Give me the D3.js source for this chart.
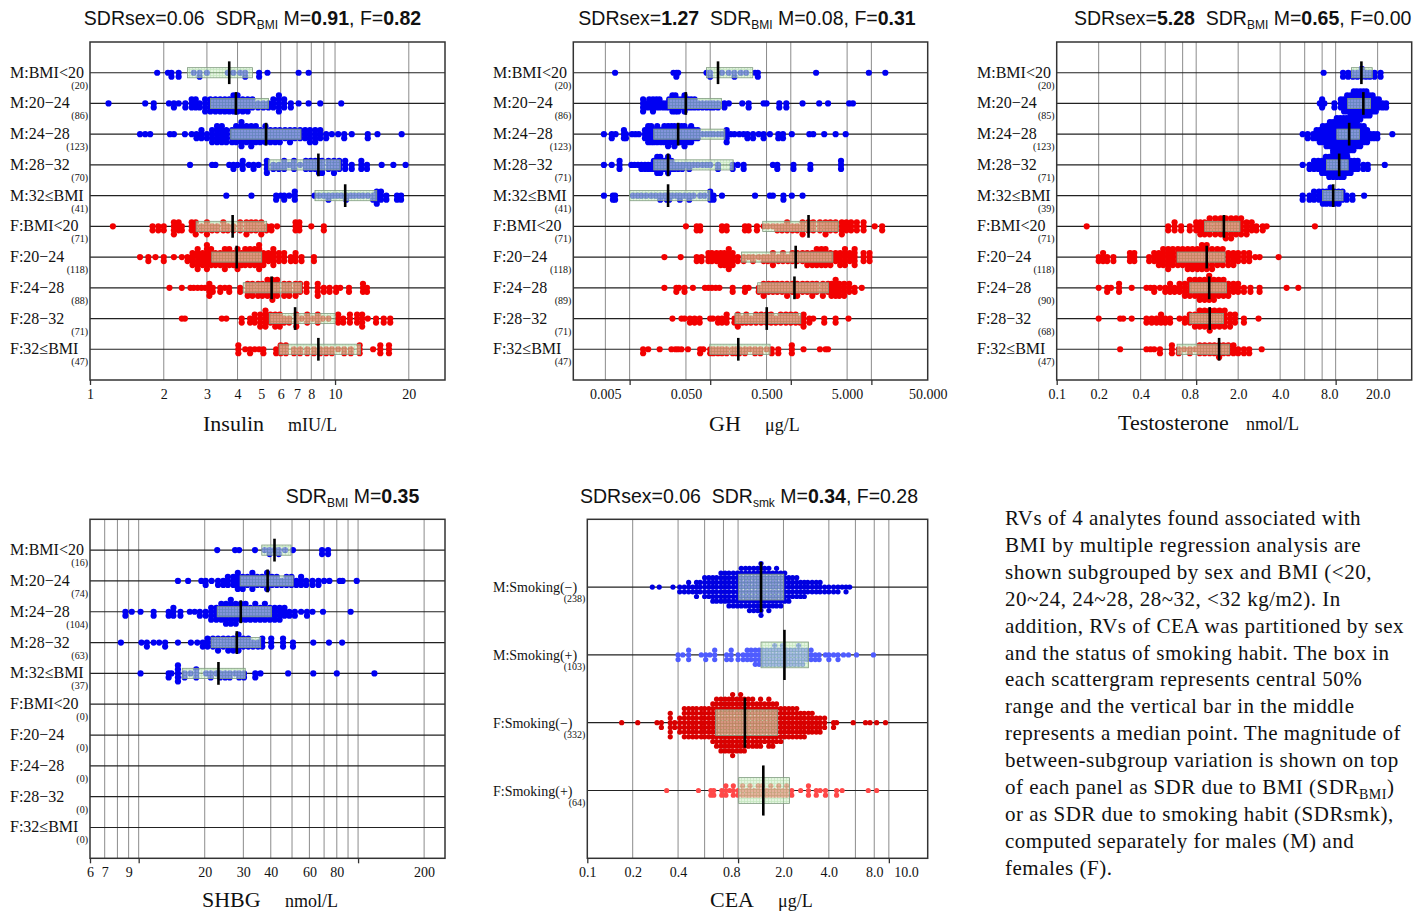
<!DOCTYPE html>
<html>
<head>
<meta charset="utf-8">
<script src="https://cdn.jsdelivr.net/npm/d3@7"></script>
<style>
    body { margin: 0; background: #fff; }
    svg { display: block; }
</style>
</head>
<body>
<svg id="chart" width="1423" height="913"></svg>
<script>
"use strict";

var SERIF = "'Liberation Serif', 'Times New Roman', serif";
var SANS = "'Liberation Sans', Arial, sans-serif";

// row labels
var bmiRows = ["M:BMI<20", "M:20\u221224", "M:24\u221228", "M:28\u221232", "M:32\u2264BMI",
               "F:BMI<20", "F:20\u221224", "F:24\u221228", "F:28\u221232", "F:32\u2264BMI"];
var ceaRows = ["M:Smoking(\u2212)", "M:Smoking(+)", "F:Smoking(\u2212)", "F:Smoking(+)"];

// subgroup sizes
var insulinN = [20, 86, 123, 70, 41, 71, 118, 88, 71, 47];
var ghN = [20, 86, 123, 71, 41, 71, 118, 89, 71, 47];
var testoN = [20, 85, 123, 71, 39, 71, 118, 90, 68, 47];
var shbgN = [16, 74, 104, 63, 37, 0, 0, 0, 0, 0];
var ceaN = [238, 103, 332, 64];

// central 50% box: [q1, median, q3]
var insulinBox = [[2.50, 3.70, 4.60], [3.10, 3.94, 5.35], [3.75, 5.23, 7.26], [5.36, 8.55, 10.5], [8.28, 11.0, 14.8],
                  [2.71, 3.82, 5.26], [3.14, 3.97, 5.02], [4.22, 5.51, 7.31], [5.39, 6.87, 10.0], [5.91, 8.55, 12.7]];
var ghBox = [[0.090, 0.125, 0.337], [0.030, 0.0498, 0.138], [0.0199, 0.040, 0.152], [0.0199, 0.030, 0.193], [0.010, 0.030, 0.099],
             [0.448, 1.66, 3.92], [0.245, 1.15, 3.33], [0.388, 1.11, 2.94], [0.203, 0.503, 1.33], [0.099, 0.223, 0.553]];
var testoBox = [[13.0, 15.3, 18.3], [12.2, 15.8, 17.8], [10.2, 12.5, 14.8], [8.6, 10.6, 12.3], [8.05, 9.6, 11.3],
                [1.15, 1.58, 2.06], [0.73, 1.19, 1.61], [0.90, 1.24, 1.65], [0.90, 1.25, 1.57], [0.73, 1.46, 1.73]];
var shbgBox = [[36.4, 41.6, 49.5], [29.0, 38.7, 50.6], [22.8, 29.2, 40.3], [21.4, 28.0, 36.0], [15.8, 23.1, 30.6],
               null, null, null, null, null];
var ceaBox = [[1.01, 1.42, 2.01], [1.42, 2.03, 2.93], [0.71, 1.11, 1.83], [1.01, 1.47, 2.19]];

// scattergram dots as [value, stacked count]
var insulinDots = [
    [[1.88,1],[2.08,1],[2.15,2],[2.3,2],[2.65,1],[2.8,2],[3.0,1],[3.65,1],[3.85,1],[4.1,1],[4.3,2],[4.9,2],[5.3,1],[7.1,1],[7.8,1]],
    [[1.19,1],[1.68,1],[1.82,2],[2.1,1],[2.2,2],[2.3,1],[2.45,2],[2.6,3],[2.7,3],[2.8,2],[2.95,4],[3.1,4],[3.25,4],[3.4,4],[3.55,4],[3.7,4],[3.85,5],[4.0,5],[4.2,4],[4.4,4],[4.6,3],[4.85,2],[5.1,2],[5.35,2],[5.6,3],[5.9,5],[6.2,3],[6.6,2],[7.1,1],[7.8,1],[8.7,1],[10.6,1]],
    [[1.6,1],[1.68,1],[1.76,1],[2.12,1],[2.2,1],[2.44,1],[2.6,1],[2.72,2],[2.85,3],[3.0,2],[3.15,4],[3.3,5],[3.45,5],[3.6,4],[3.8,4],[3.95,5],[4.15,7],[4.35,5],[4.55,6],[4.75,5],[4.95,4],[5.2,5],[5.45,4],[5.7,4],[5.95,4],[6.25,3],[6.55,4],[6.85,3],[7.2,3],[7.55,3],[7.9,4],[8.3,4],[8.7,3],[9.2,2],[9.7,1],[10.3,1],[10.9,2],[11.7,1],[13.6,2],[14.9,1],[18.7,1]],
    [[2.56,1],[3.15,1],[3.25,1],[3.7,1],[3.85,2],[4.0,1],[4.2,3],[4.45,1],[4.65,2],[4.87,1],[5.27,4],[5.6,2],[5.9,2],[6.2,3],[6.5,1],[6.8,3],[7.2,1],[7.6,3],[7.95,3],[8.3,3],[8.6,4],[8.85,4],[9.4,3],[9.9,4],[10.4,3],[11.0,3],[11.7,2],[12.8,3],[13.5,2],[15.5,1],[17.3,1],[19.4,1]],
    [[3.6,1],[4.56,1],[5.75,2],[6.0,1],[6.2,2],[6.5,1],[6.85,3],[8.25,1],[8.6,1],[9.0,1],[9.4,2],[9.8,1],[10.2,1],[10.6,1],[11.1,2],[11.6,1],[12.0,1],[12.5,1],[13.0,1],[13.6,1],[14.3,2],[14.8,4],[15.4,3],[16.2,2],[17.9,2],[18.6,2]],
    [[1.24,1],[1.8,2],[1.9,2],[2.0,2],[2.2,4],[2.3,3],[2.37,2],[2.6,3],[2.7,4],[2.85,2],[3.0,4],[3.15,2],[3.3,2],[3.5,3],[3.65,2],[3.85,2],[4.1,3],[4.35,4],[4.55,3],[4.75,3],[5.0,4],[5.25,2],[5.5,2],[5.8,1],[6.9,3],[7.15,3],[8.0,1],[9.0,2]],
    [[1.6,1],[1.73,2],[1.85,1],[2.0,2],[2.2,1],[2.37,1],[2.5,2],[2.62,4],[2.75,6],[2.88,4],[3.0,7],[3.12,5],[3.25,4],[3.4,4],[3.55,6],[3.7,5],[3.85,4],[4.0,6],[4.15,4],[4.3,5],[4.5,5],[4.7,5],[4.9,7],[5.1,4],[5.35,3],[5.6,5],[5.9,3],[6.2,3],[6.6,2],[6.9,3],[7.3,2],[8.2,2]],
    [[2.11,1],[2.37,1],[2.57,1],[2.65,1],[2.75,1],[2.85,1],[2.95,1],[3.07,4],[3.17,2],[3.4,2],[3.55,1],[3.7,2],[4.1,2],[4.4,4],[4.6,4],[4.85,4],[5.05,4],[5.3,5],[5.55,6],[5.8,5],[6.2,4],[6.5,4],[6.9,4],[7.2,3],[7.65,3],[8.5,4],[9.0,2],[9.5,2],[10.1,2],[10.5,1],[11.4,2],[13.0,3],[13.5,2]],
    [[2.37,1],[2.44,1],[3.45,1],[3.6,1],[4.16,2],[4.5,2],[4.7,3],[4.95,4],[5.2,5],[5.45,3],[5.7,4],[5.95,4],[6.2,2],[6.5,2],[6.95,4],[7.3,1],[7.7,3],[8.1,1],[8.5,3],[8.9,1],[9.4,1],[10.3,3],[10.8,2],[11.5,3],[12.3,3],[12.9,4],[13.6,1],[14.7,2],[15.8,2],[16.8,2]],
    [[4.03,3],[4.3,1],[4.5,2],[4.7,1],[4.9,1],[5.1,2],[5.75,2],[6.0,3],[6.3,3],[6.8,2],[7.2,2],[7.7,2],[8.2,2],[8.7,2],[9.2,2],[9.7,2],[10.3,1],[10.9,2],[11.6,2],[12.6,3],[14.3,1],[15.3,3],[16.6,3]]
];

var ghDots = [
    [[0.0066,1],[0.035,1],[0.038,2],[0.04,1],[0.09,1],[0.1,2],[0.14,1],[0.17,1],[0.2,2],[0.24,1],[0.28,1],[0.36,1],[0.39,2],[2.06,1],[9.3,1],[14.9,1]],
    [[0.0147,4],[0.016,2],[0.0175,3],[0.0195,4],[0.0215,3],[0.0235,3],[0.026,2],[0.0285,2],[0.031,3],[0.034,5],[0.037,5],[0.04,4],[0.044,3],[0.048,5],[0.053,3],[0.058,3],[0.064,3],[0.071,2],[0.08,2],[0.09,2],[0.1,2],[0.11,2],[0.125,2],[0.15,2],[0.17,1],[0.25,1],[0.3,2],[0.46,1],[0.5,1],[0.72,2],[0.88,2],[1.4,1],[2.25,1],[2.9,1],[5.3,1],[5.9,1]],
    [[0.0048,1],[0.006,2],[0.0067,1],[0.0085,3],[0.009,2],[0.0107,1],[0.0118,1],[0.013,1],[0.0155,3],[0.017,5],[0.0185,5],[0.02,4],[0.022,5],[0.0245,4],[0.027,5],[0.03,6],[0.033,5],[0.036,6],[0.04,5],[0.044,5],[0.048,6],[0.053,4],[0.058,5],[0.064,3],[0.07,3],[0.08,1],[0.09,1],[0.1,1],[0.11,1],[0.125,1],[0.14,1],[0.16,4],[0.18,1],[0.2,1],[0.23,1],[0.26,1],[0.29,2],[0.34,2],[0.4,1],[0.46,2],[0.55,1],[0.7,2],[0.8,2],[1.03,1],[1.7,1],[1.9,1],[2.6,1],[3.6,1],[4.8,1]],
    [[0.0048,1],[0.006,1],[0.0075,3],[0.0105,1],[0.0115,1],[0.0127,1],[0.014,2],[0.0155,2],[0.017,2],[0.0185,2],[0.02,3],[0.022,5],[0.024,5],[0.027,3],[0.03,5],[0.033,3],[0.036,2],[0.04,2],[0.045,2],[0.05,1],[0.055,2],[0.062,1],[0.07,1],[0.08,1],[0.09,1],[0.1,1],[0.125,2],[0.19,2],[0.22,1],[0.26,2],[0.6,1],[0.68,2],[1.08,2],[1.75,2],[4.2,3]],
    [[0.0048,1],[0.0062,2],[0.0066,2],[0.011,1],[0.0125,1],[0.014,1],[0.016,1],[0.0185,1],[0.021,1],[0.024,2],[0.027,1],[0.029,2],[0.031,2],[0.034,1],[0.038,1],[0.042,2],[0.048,1],[0.055,2],[0.062,1],[0.075,1],[0.085,1],[0.1,3],[0.11,2],[0.14,1],[0.36,1],[0.55,1],[0.6,1],[0.81,2],[1.03,1],[1.4,1]],
    [[0.05,1],[0.068,2],[0.075,2],[0.14,2],[0.16,2],[0.27,2],[0.3,2],[0.38,2],[0.46,1],[0.52,1],[0.6,1],[0.68,2],[0.78,2],[0.9,3],[1.05,2],[1.2,2],[1.4,4],[1.65,3],[1.9,3],[2.3,3],[2.7,4],[3.1,3],[3.6,3],[4.3,4],[4.9,3],[5.6,3],[6.6,3],[8.0,3],[11.0,1],[13.6,2]],
    [[0.027,1],[0.043,1],[0.068,2],[0.078,2],[0.095,3],[0.105,3],[0.12,3],[0.135,4],[0.15,4],[0.17,6],[0.19,4],[0.22,2],[0.26,2],[0.3,1],[0.34,2],[0.4,1],[0.46,2],[0.52,2],[0.6,4],[0.7,2],[0.8,3],[0.92,2],[1.05,3],[1.2,3],[1.4,3],[1.6,4],[1.85,4],[2.1,5],[2.4,5],[2.7,5],[3.1,4],[3.6,3],[4.1,4],[4.7,5],[5.4,3],[6.2,5],[8.0,3],[9.5,3]],
    [[0.027,1],[0.038,2],[0.041,1],[0.048,2],[0.061,1],[0.086,1],[0.095,1],[0.105,1],[0.117,1],[0.13,1],[0.19,2],[0.27,2],[0.3,1],[0.4,2],[0.46,4],[0.53,3],[0.6,3],[0.68,3],[0.78,3],[0.9,4],[1.05,3],[1.2,4],[1.4,3],[1.6,3],[1.85,4],[2.1,3],[2.5,4],[2.9,3],[3.2,4],[3.6,5],[4.0,4],[4.6,4],[5.3,3],[6.2,2],[7.6,1]],
    [[0.034,1],[0.044,1],[0.048,1],[0.056,2],[0.064,2],[0.074,2],[0.1,1],[0.108,1],[0.125,2],[0.14,2],[0.16,3],[0.2,2],[0.22,4],[0.25,2],[0.28,3],[0.32,2],[0.37,3],[0.43,3],[0.5,3],[0.57,3],[0.65,2],[0.75,3],[0.87,3],[1.0,3],[1.15,3],[1.3,2],[1.44,4],[1.7,2],[1.9,1],[2.6,2],[3.6,2],[5.2,1]],
    [[0.0147,2],[0.017,1],[0.0236,1],[0.033,1],[0.037,1],[0.04,1],[0.044,1],[0.053,1],[0.075,2],[0.082,1],[0.1,2],[0.11,2],[0.125,2],[0.14,2],[0.16,2],[0.19,2],[0.21,2],[0.23,2],[0.27,2],[0.31,1],[0.36,2],[0.42,2],[0.5,1],[0.58,2],[0.7,2],[1.03,3],[1.44,1],[2.3,1],[2.7,1],[2.9,1]]
];

var testoDots = [
    [[8.2,1],[11.3,2],[12.3,2],[13.3,2],[14.3,2],[15.4,3],[16.5,2],[17.6,2],[19.0,2],[21.0,2]],
    [[7.7,1],[8.0,3],[8.3,1],[9.8,2],[10.9,3],[11.5,4],[12.1,5],[12.8,6],[13.5,8],[14.2,8],[15.0,8],[15.8,7],[16.6,7],[17.5,6],[18.4,5],[19.4,4],[20.4,3],[21.7,2],[23.0,2]],
    [[5.8,1],[6.3,2],[6.9,2],[7.3,3],[7.7,4],[8.1,5],[8.6,6],[9.1,7],[9.6,8],[10.2,9],[10.8,10],[11.4,10],[12.0,10],[12.7,9],[13.4,8],[14.2,7],[15.0,6],[15.9,5],[16.8,4],[17.8,2],[18.8,2],[19.9,2],[25.5,1]],
    [[5.8,1],[6.5,2],[7.0,3],[7.5,3],[8.0,4],[8.5,5],[9.0,6],[9.6,7],[10.2,7],[10.8,7],[11.4,6],[12.1,5],[12.8,4],[13.6,3],[14.4,3],[15.8,2],[17.0,2],[22.5,1]],
    [[5.8,2],[6.5,2],[7.0,3],[7.6,3],[8.1,4],[8.6,4],[9.2,5],[9.8,4],[10.5,4],[11.2,3],[12.0,2],[13.2,2],[16.0,1]],
    [[0.164,1],[0.63,2],[0.7,3],[0.78,2],[0.9,2],[1.0,3],[1.07,4],[1.15,4],[1.25,5],[1.37,5],[1.5,5],[1.63,6],[1.78,6],[1.93,5],[2.1,5],[2.3,4],[2.5,3],[2.7,2],[3.0,2],[3.2,1],[7.1,1]],
    [[0.2,2],[0.215,3],[0.23,2],[0.255,2],[0.335,3],[0.36,3],[0.46,2],[0.5,3],[0.54,4],[0.58,5],[0.63,6],[0.68,5],[0.74,5],[0.8,5],[0.87,6],[0.94,6],[1.02,6],[1.1,7],[1.19,7],[1.3,6],[1.42,5],[1.55,5],[1.7,4],[1.85,4],[2.0,3],[2.2,3],[2.4,3],[2.65,1],[2.85,1],[3.9,1]],
    [[0.2,1],[0.23,2],[0.245,1],[0.28,3],[0.345,1],[0.44,1],[0.47,1],[0.5,2],[0.55,1],[0.6,2],[0.65,3],[0.7,2],[0.76,3],[0.83,4],[0.9,5],[0.98,5],[1.06,6],[1.15,6],[1.24,7],[1.34,6],[1.45,5],[1.57,5],[1.7,4],[1.85,3],[2.0,3],[2.2,2],[2.45,2],[2.85,2],[4.45,1],[5.4,1]],
    [[0.2,1],[0.285,1],[0.3,1],[0.345,1],[0.44,2],[0.48,2],[0.52,2],[0.56,3],[0.6,2],[0.65,2],[0.76,1],[0.83,2],[0.9,3],[0.98,4],[1.06,5],[1.15,5],[1.25,6],[1.35,5],[1.47,5],[1.6,5],[1.75,4],[1.9,3],[2.2,2],[2.8,1]],
    [[0.285,1],[0.44,1],[0.47,1],[0.5,1],[0.55,2],[0.67,3],[0.75,2],[0.82,1],[0.9,2],[0.98,1],[1.06,3],[1.15,3],[1.25,3],[1.35,3],[1.46,4],[1.57,3],[1.7,3],[1.85,3],[2.0,2],[2.2,2],[2.4,2],[2.95,1]]
];

var shbgDots = [
    [[22.8,1],[27.5,1],[28.7,1],[33.9,1],[37.5,1],[39.5,2],[41.6,1],[43.5,2],[46.5,1],[50.5,1],[68.5,2],[73.0,2]],
    [[15.1,1],[16.8,1],[19.3,1],[20.2,2],[21.5,1],[23.0,2],[24.3,2],[25.5,3],[27.0,3],[28.3,5],[29.8,4],[31.3,3],[33.0,5],[34.7,3],[36.5,3],[38.5,5],[40.5,3],[42.6,3],[44.8,2],[47.2,3],[49.7,3],[52.3,2],[55.0,3],[58.0,2],[62.0,2],[66.0,2],[70.0,1],[74.0,1],[82.5,1],[85.0,1],[98.6,1]],
    [[8.7,2],[9.3,1],[10.2,1],[11.7,2],[13.7,2],[14.4,3],[15.5,2],[17.1,1],[18.0,1],[19.0,2],[20.2,2],[21.4,4],[22.6,4],[23.8,5],[25.0,6],[26.3,7],[27.7,6],[29.2,5],[30.7,5],[32.3,4],[34.0,5],[35.8,4],[37.6,5],[39.6,4],[41.7,4],[43.9,4],[46.2,3],[48.6,2],[51.5,2],[55.0,1],[58.5,2],[62.0,1],[69.2,1],[92.5,1]],
    [[8.3,1],[10.3,1],[10.9,2],[11.7,1],[12.4,1],[13.2,2],[15.1,1],[17.3,1],[18.5,1],[19.6,2],[20.6,3],[21.8,3],[23.0,4],[24.3,3],[25.6,4],[27.0,4],[28.5,5],[30.0,3],[31.6,3],[33.2,2],[35.0,2],[36.6,3],[40.2,3],[45.5,3],[50.5,2],[62.5,1],[73.7,1],[84.6,1]],
    [[10.2,1],[13.7,2],[14.1,1],[15.1,5],[16.2,2],[17.2,1],[18.3,3],[20.3,1],[21.3,2],[22.6,1],[23.5,2],[24.8,2],[26.0,2],[27.5,1],[28.7,2],[30.2,2],[34.0,2],[35.9,1],[48.0,1],[62.5,1],[80.0,1],[118.7,1]],
    [], [], [], [], []
];

var ceaDots = [
    [[0.27,1],[0.3,1],[0.37,1],[0.41,2],[0.44,2],[0.47,3],[0.5,2],[0.53,4],[0.56,3],[0.6,5],[0.64,5],[0.68,6],[0.72,6],[0.77,7],[0.82,7],[0.87,8],[0.93,8],[0.99,8],[1.05,9],[1.12,9],[1.19,10],[1.27,10],[1.35,10],[1.42,12],[1.5,9],[1.6,10],[1.7,8],[1.8,9],[1.92,8],[2.04,7],[2.17,6],[2.3,5],[2.45,5],[2.6,4],[2.75,4],[2.9,3],[3.1,3],[3.3,3],[3.5,3],[3.75,2],[4.0,2],[4.3,2],[4.6,2],[4.9,1],[5.2,2],[5.5,1]],
    [[0.4,2],[0.43,1],[0.47,3],[0.57,1],[0.61,2],[0.65,1],[0.7,3],[0.84,2],[0.9,3],[1.0,2],[1.08,2],[1.15,3],[1.22,3],[1.3,4],[1.38,4],[1.46,4],[1.55,4],[1.65,4],[1.75,5],[1.86,4],[1.97,5],[2.1,4],[2.23,4],[2.37,4],[2.52,5],[2.68,4],[2.85,3],[3.05,3],[3.25,2],[3.45,2],[3.8,1],[4.0,2],[4.3,1],[4.6,2],[5.0,1],[5.4,1],[6.1,1],[7.9,1]],
    [[0.169,1],[0.216,1],[0.29,1],[0.31,2],[0.355,6],[0.38,2],[0.41,4],[0.44,7],[0.47,7],[0.5,7],[0.53,7],[0.57,7],[0.6,7],[0.64,7],[0.68,9],[0.72,11],[0.77,12],[0.82,12],[0.87,12],[0.92,14],[0.98,12],[1.04,13],[1.1,12],[1.17,11],[1.25,11],[1.33,10],[1.41,11],[1.5,9],[1.6,11],[1.7,10],[1.8,9],[1.92,8],[2.04,7],[2.17,7],[2.3,7],[2.45,7],[2.6,6],[2.75,6],[2.93,5],[3.1,5],[3.3,4],[3.5,4],[3.75,3],[4.3,2],[4.5,1],[5.8,1],[7.0,1],[7.5,1],[8.3,1],[9.5,1]],
    [[0.336,1],[0.546,1],[0.66,2],[0.69,2],[0.78,2],[0.83,3],[0.88,1],[0.93,3],[1.0,2],[1.07,3],[1.14,2],[1.2,3],[1.28,2],[1.36,3],[1.45,3],[1.55,2],[1.65,3],[1.75,2],[1.86,3],[1.98,2],[2.1,3],[2.27,2],[2.6,1],[2.93,3],[3.3,2],[3.5,1],[3.8,2],[4.5,2],[4.9,1],[7.3,1],[8.3,1]]
];

// axes: vertical grid lines, decade ticks, labelled ticks
var insulinGrid = [2, 3, 4, 5, 6, 7, 8, 9, 10, 20];
var insulinTicks = [1, 2, 3, 4, 5, 6, 7, 8, 10, 20];
var insulinTickText = ["1", "2", "3", "4", "5", "6", "7", "8", "10", "20"];
var ghGrid = [0.005, 0.01, 0.05, 0.1, 0.5, 1, 5, 10];
var ghTicks = [0.005, 0.05, 0.5, 5, 50];
var ghTickText = ["0.005", "0.050", "0.500", "5.000", "50.000"];
var testoGrid = [0.2, 0.4, 0.6, 0.8, 1, 2, 4, 6, 8, 10, 20];
var testoTicks = [0.1, 0.2, 0.4, 0.9, 2, 4, 9, 20];
var testoTickText = ["0.1", "0.2", "0.4", "0.8", "2.0", "4.0", "8.0", "20.0"];
var shbgGrid = [7, 8, 9, 10, 20, 30, 40, 50, 60, 70, 80, 90, 100, 200];
var shbgTicks = [6, 7, 9, 20, 30, 40, 60, 80, 200];
var shbgTickText = ["6", "7", "9", "20", "30", "40", "60", "80", "200"];
var ceaGrid = [0.2, 0.4, 0.6, 0.8, 1, 2, 4, 6, 8, 10];
var ceaTicks = [0.1, 0.2, 0.4, 0.9, 2, 4, 8, 13];
var ceaTickText = ["0.1", "0.2", "0.4", "0.8", "2.0", "4.0", "8.0", "10.0"];

// panel headers: [text, style] with b = bold, s = subscript
var insulinTitle = [["SDRsex=0.06  SDR", ""], ["BMI", "s"], [" M=", ""], ["0.91", "b"], [", F=", ""], ["0.82", "b"]];
var ghTitle = [["SDRsex=", ""], ["1.27", "b"], ["  SDR", ""], ["BMI", "s"], [" M=0.08, F=", ""], ["0.31", "b"]];
var testoTitle = [["SDRsex=", ""], ["5.28", "b"], ["  SDR", ""], ["BMI", "s"], [" M=", ""], ["0.65", "b"], [", F=0.00", ""]];
var shbgTitle = [["SDR", ""], ["BMI", "s"], [" M=", ""], ["0.35", "b"]];
var ceaTitle = [["SDRsex=0.06  SDR", ""], ["smk", "s"], [" M=", ""], ["0.34", "b"], [", F=0.28", ""]];

var captionLines = [
    "RVs of 4 analytes found associated with",
    "BMI by multiple regression analysis are",
    "shown subgrouped by sex and BMI (<20,",
    "20~24, 24~28, 28~32, <32 kg/m2). In",
    "addition, RVs of CEA was partitioned by sex",
    "and the status of smoking habit. The box in",
    "each scattergram represents central 50%",
    "range and the vertical bar in the middle",
    "represents a median point. The magnitude of",
    "between-subgroup variation is shown on top",
    "of each panel as SDR due to BMI (SDR_{BMI})",
    "or as SDR due to smoking habit (SDRsmk),",
    "computed separately for males (M) and",
    "females (F)."
];

var BLUE = "#0000f2", RED = "#f20000";
var bmiColors = [BLUE, BLUE, BLUE, BLUE, BLUE, RED, RED, RED, RED, RED];
var ceaColors = ["#0000e0", "#4f5cff", "#d80000", "#ff4848"];

var svg = d3.select("#chart");

// light green grid fill for the 50% boxes
var pat = svg.append("defs").append("pattern")
    .attr("id", "boxgrid")
    .attr("patternUnits", "userSpaceOnUse")
    .attr("width", 3).attr("height", 3);
pat.append("rect").attr("width", 3).attr("height", 3).attr("fill", "#d4efcd");
pat.append("path").attr("d", "M0,0.5H3M0.5,0V3")
    .attr("stroke", "#9fd597").attr("stroke-width", 0.7);

// 0, below, above, 2 below, 2 above ...
function stackOffset(k) {
    if (k === 0) return 0;
    return k % 2 === 1 ? Math.ceil(k / 2) : -k / 2;
}

function drawTitle(parts, x, y, anchor) {
    var t = svg.append("text")
        .attr("x", x).attr("y", y)
        .attr("text-anchor", anchor)
        .attr("font-family", SANS)
        .attr("font-size", 19.5)
        .attr("fill", "#111")
        .style("white-space", "pre");
    var shifted = false;
    parts.forEach(function (p) {
        var ts = t.append("tspan").text(p[0]);
        if (p[1] === "b") ts.attr("font-weight", "bold");
        if (p[1] === "s") {
            ts.attr("font-size", 12).attr("dy", 4);
            shifted = true;
        } else if (shifted) {
            ts.attr("dy", -4);
            shifted = false;
        }
    });
}

function drawPanel(p) {
    var g = svg.append("g");
    var x = d3.scaleLog().domain(p.domain).range([p.left, p.right]);
    var y = d3.scalePoint().domain(d3.range(p.rows.length))
        .range([p.top, p.bottom]).padding(1);
    var step = y.step();

    g.selectAll(".vgrid").data(p.grid).enter().append("line")
        .attr("x1", function (d) { return x(d); })
        .attr("x2", function (d) { return x(d); })
        .attr("y1", p.top).attr("y2", p.bottom)
        .attr("stroke", "#8c8c8c").attr("stroke-width", 1);

    g.selectAll(".hrow").data(d3.range(p.rows.length)).enter().append("line")
        .attr("x1", p.left).attr("x2", p.right)
        .attr("y1", function (d) { return y(d); })
        .attr("y2", function (d) { return y(d); })
        .attr("stroke", "#222").attr("stroke-width", 1.2);

    p.dots.forEach(function (bins, i) {
        var pts = [];
        bins.forEach(function (b) {
            for (var k = 0; k < b[1]; k++) pts.push({ v: b[0], k: k });
        });
        g.append("g").selectAll("circle").data(pts).enter().append("circle")
            .attr("cx", function (d) { return x(d.v); })
            .attr("cy", function (d) { return y(i) + stackOffset(d.k) * p.gap; })
            .attr("r", p.r)
            .attr("fill", p.colors[i]);
    });

    var bh = step * p.boxH, mh = step * 0.74;
    p.box.forEach(function (b, i) {
        if (!b) return;
        g.append("rect")
            .attr("x", x(b[0])).attr("y", y(i) - bh / 2)
            .attr("width", x(b[2]) - x(b[0])).attr("height", bh)
            .attr("fill", "url(#boxgrid)").attr("opacity", 0.62);
        g.append("rect")
            .attr("x", x(b[0])).attr("y", y(i) - bh / 2)
            .attr("width", x(b[2]) - x(b[0])).attr("height", bh)
            .attr("fill", "none").attr("stroke", "#7f9a7f").attr("stroke-width", 0.8);
        g.append("line")
            .attr("x1", x(b[1])).attr("x2", x(b[1]))
            .attr("y1", y(i) - mh / 2).attr("y2", y(i) + mh / 2)
            .attr("stroke", "#000").attr("stroke-width", 2.6);
    });

    g.append("rect")
        .attr("x", p.left).attr("y", p.top)
        .attr("width", p.right - p.left).attr("height", p.bottom - p.top)
        .attr("fill", "none").attr("stroke", "#333").attr("stroke-width", 1.5);

    // short tick marks at decades
    var tickAxis = g.append("g").attr("transform", "translate(0," + p.bottom + ")")
        .call(d3.axisBottom(x).tickValues(p.decades).tickSize(5).tickFormat(""));
    tickAxis.select(".domain").remove();
    tickAxis.selectAll("line").attr("stroke", "#333").attr("stroke-width", 1.3);

    var ax = g.append("g").attr("transform", "translate(0," + p.bottom + ")")
        .call(d3.axisBottom(x).tickValues(p.ticks)
            .tickFormat(function (d, i) { return p.tickText[i]; })
            .tickSize(0).tickPadding(9));
    ax.select(".domain").remove();
    ax.selectAll("text")
        .attr("font-family", SERIF).attr("font-size", 14).attr("fill", "#111");

    g.selectAll(".rowlab").data(p.rows).enter().append("text")
        .attr("x", p.labelX)
        .attr("y", function (d, i) { return y(i) + 5; })
        .attr("font-family", SERIF).attr("font-size", p.labelSize).attr("fill", "#111")
        .text(function (d) { return d; });

    g.selectAll(".nlab").data(p.n).enter().append("text")
        .attr("x", p.left - 2)
        .attr("y", function (d, i) { return y(i) + p.countDy; })
        .attr("text-anchor", "end")
        .attr("font-family", SERIF).attr("font-size", 10).attr("fill", "#111")
        .text(function (d) { return "(" + d + ")"; });

    g.append("text")
        .attr("x", p.nameX).attr("y", p.nameY)
        .attr("font-family", SERIF).attr("font-size", 22).attr("fill", "#111")
        .text(p.name);
    g.append("text")
        .attr("x", p.unitX).attr("y", p.nameY)
        .attr("font-family", SERIF).attr("font-size", 18).attr("fill", "#111")
        .text(p.unit);
}

var panels = [
    { rows: bmiRows, n: insulinN, box: insulinBox, dots: insulinDots, colors: bmiColors,
      left: 90, right: 445, top: 42, bottom: 380, domain: [1, 28.1],
      grid: insulinGrid, ticks: insulinTicks, tickText: insulinTickText, decades: [1, 10],
      r: 3.1, gap: 4.0, boxH: 0.33, labelX: 10, labelSize: 16, countDy: 16,
      name: "Insulin", unit: "mIU/L", nameX: 203, unitX: 288, nameY: 431 },
    { rows: bmiRows, n: ghN, box: ghBox, dots: ghDots, colors: bmiColors,
      left: 573.3, right: 927.7, top: 42, bottom: 380, domain: [0.002, 50],
      grid: ghGrid, ticks: ghTicks, tickText: ghTickText, decades: [0.01, 0.1, 1, 10],
      r: 3.1, gap: 4.0, boxH: 0.33, labelX: 493, labelSize: 16, countDy: 16,
      name: "GH", unit: "\u03bcg/L", nameX: 709, unitX: 765, nameY: 431 },
    { rows: bmiRows, n: testoN, box: testoBox, dots: testoDots, colors: bmiColors,
      left: 1056.7, right: 1411.7, top: 42, bottom: 380, domain: [0.1, 35.1],
      grid: testoGrid, ticks: testoTicks, tickText: testoTickText, decades: [0.1, 1, 10],
      r: 3.1, gap: 4.0, boxH: 0.33, labelX: 977, labelSize: 16, countDy: 16,
      name: "Testosterone", unit: "nmol/L", nameX: 1118, unitX: 1246, nameY: 430 },
    { rows: bmiRows, n: shbgN, box: shbgBox, dots: shbgDots, colors: bmiColors,
      left: 90, right: 445, top: 519.3, bottom: 858.3, domain: [6, 249],
      grid: shbgGrid, ticks: shbgTicks, tickText: shbgTickText, decades: [6, 10, 100],
      r: 3.1, gap: 4.0, boxH: 0.33, labelX: 10, labelSize: 16, countDy: 16,
      name: "SHBG", unit: "nmol/L", nameX: 202, unitX: 285, nameY: 907 },
    { rows: ceaRows, n: ceaN, box: ceaBox, dots: ceaDots, colors: ceaColors,
      left: 587.3, right: 927.7, top: 519.3, bottom: 858.3, domain: [0.1, 18.1],
      grid: ceaGrid, ticks: ceaTicks, tickText: ceaTickText, decades: [0.1, 1, 10],
      r: 2.6, gap: 4.7, boxH: 0.38, labelX: 493, labelSize: 14, countDy: 15,
      name: "CEA", unit: "\u03bcg/L", nameX: 710, unitX: 778, nameY: 907 }
];

panels.forEach(drawPanel);

drawTitle(insulinTitle, 252.5, 25, "middle");
drawTitle(ghTitle, 747, 25, "middle");
drawTitle(testoTitle, 1242.7, 25, "middle");
drawTitle(shbgTitle, 419.3, 503, "end");
drawTitle(ceaTitle, 749, 503, "middle");

// caption on the right
var cap = svg.append("text")
    .attr("font-family", SERIF).attr("font-size", 21)
    .attr("letter-spacing", 0.5).attr("fill", "#111");
captionLines.forEach(function (line, i) {
    var row = cap.append("tspan").attr("x", 1005).attr("y", 525 + i * 26.9);
    var parts = line.split(/_\{(.*?)\}/);
    parts.forEach(function (s, j) {
        if (j % 2 === 1) {
            row.append("tspan").attr("font-size", 14).attr("dy", 5).text(s);
        } else if (j > 0) {
            row.append("tspan").attr("dy", -5).text(s);
        } else {
            row.append("tspan").text(s);
        }
    });
});
</script>
</body>
</html>
